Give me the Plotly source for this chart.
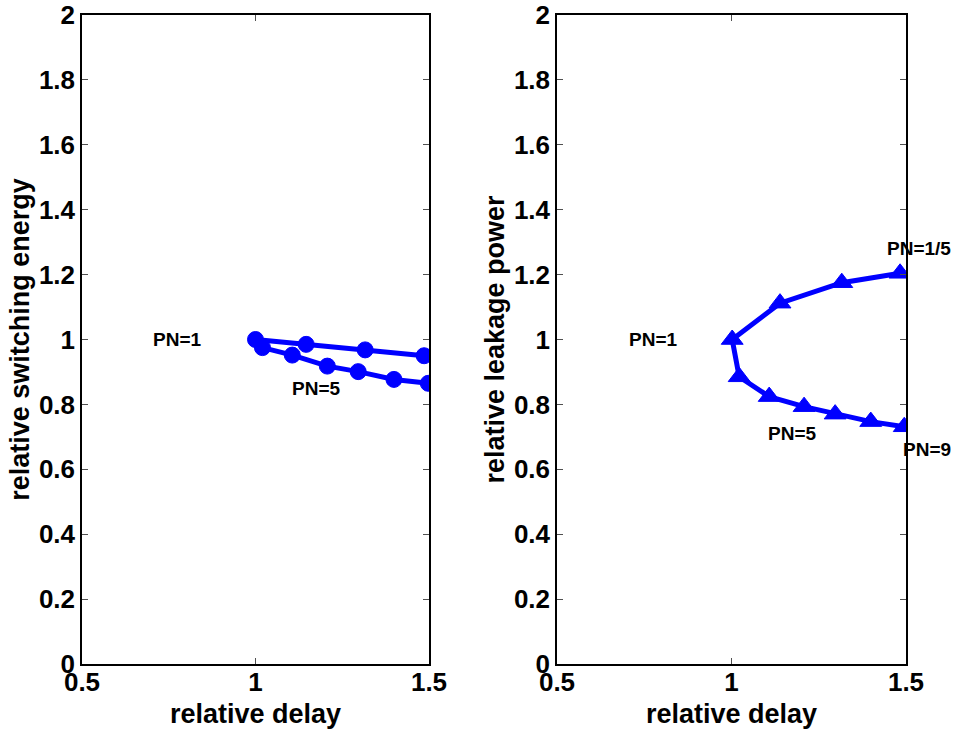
import plotly.graph_objects as go

# ---- data ----
left_upper_x = [1.486, 1.316, 1.146, 1.0]
left_upper_y = [0.950, 0.968, 0.985, 1.0]
left_lower_x = [1.0, 1.020, 1.106, 1.207, 1.296, 1.399, 1.498]
left_lower_y = [1.0, 0.975, 0.952, 0.918, 0.901, 0.877, 0.865]

right_upper_x = [1.483, 1.316, 1.139, 1.002]
right_upper_y = [1.204, 1.175, 1.112, 1.0]
right_lower_x = [1.002, 1.022, 1.108, 1.208, 1.297, 1.399, 1.495]
right_lower_y = [1.0, 0.885, 0.824, 0.793, 0.770, 0.747, 0.731]

x_ticks = [0.5, 1, 1.5]
x_tick_text = ["0.5", "1", "1.5"]
y_ticks = [0, 0.2, 0.4, 0.6, 0.8, 1, 1.2, 1.4, 1.6, 1.8, 2]
y_tick_text = ["0", "0.2", "0.4", "0.6", "0.8", "1", "1.2", "1.4", "1.6", "1.8", "2"]

left_labels = [("PN=1", 0.70, 1.0), ("PN=5", 1.10, 0.85)]
right_labels = [("PN=1", 0.70, 1.0), ("PN=5", 1.10, 0.71), ("PN=9", 1.485, 0.66), ("PN=1/5", 1.44, 1.28)]

BLUE = "rgb(0,0,255)"
FONT = "Liberation Sans, Arial, sans-serif"

fig = go.Figure()
fig.add_trace(go.Scatter(
    x=left_upper_x + left_lower_x[1:], y=left_upper_y + left_lower_y[1:],
    mode="lines+markers", line=dict(color=BLUE, width=5),
    marker=dict(symbol="circle", size=16, color=BLUE, line=dict(color=BLUE, width=1)),
    xaxis="x", yaxis="y", showlegend=False))
fig.add_trace(go.Scatter(
    x=right_upper_x + right_lower_x[1:], y=right_upper_y + right_lower_y[1:],
    mode="lines+markers", line=dict(color=BLUE, width=5),
    marker=dict(symbol="triangle-up", size=19, color=BLUE, line=dict(color=BLUE, width=1)),
    xaxis="x2", yaxis="y2", showlegend=False))

W, H = 956, 734
axcommon = dict(showline=True, linecolor="black", linewidth=1.5, mirror="allticks",
                ticks="inside", ticklen=6, tickcolor="rgb(80,80,80)", tickwidth=1,
                showgrid=False, zeroline=False, automargin=False,
                tickfont=dict(family=FONT, size=26, color="black", weight="bold"))
TFONT = dict(family=FONT, size=27, color="black")

xl = dict(axcommon, range=[0.5, 1.5], tickvals=x_ticks, ticktext=x_tick_text,
          ticklabelstandoff=-6,
          title=dict(text="<b>relative delay</b>", font=TFONT, standoff=8))
yl = dict(axcommon, range=[0, 2], tickvals=y_ticks, ticktext=y_tick_text)

fig.update_layout(
    width=W, height=H, margin=dict(l=0, r=0, t=0, b=0),
    paper_bgcolor="white", plot_bgcolor="white",
    xaxis=dict(xl, domain=[82 / W, 429 / W], anchor="y"),
    yaxis=dict(yl, domain=[70 / H, 719 / H], anchor="x",
               title=dict(text="<b>relative switching energy</b>", font=TFONT, standoff=1)),
    xaxis2=dict(xl, domain=[557 / W, 906 / W], anchor="y2"),
    yaxis2=dict(yl, domain=[70 / H, 719 / H], anchor="x2",
                title=dict(text="<b>relative leakage power</b>", font=TFONT, standoff=1)),
)

for txt, x, y in left_labels:
    fig.add_annotation(x=x, y=y, xref="x", yref="y", text="<b>%s</b>" % txt, showarrow=False,
                       xanchor="left", yanchor="middle", font=dict(family=FONT, size=19, color="black"))
for txt, x, y in right_labels:
    fig.add_annotation(x=x, y=y, xref="x2", yref="y2", text="<b>%s</b>" % txt, showarrow=False,
                       xanchor="left", yanchor="middle", font=dict(family=FONT, size=19, color="black"))

fig.write_html("out.html")
